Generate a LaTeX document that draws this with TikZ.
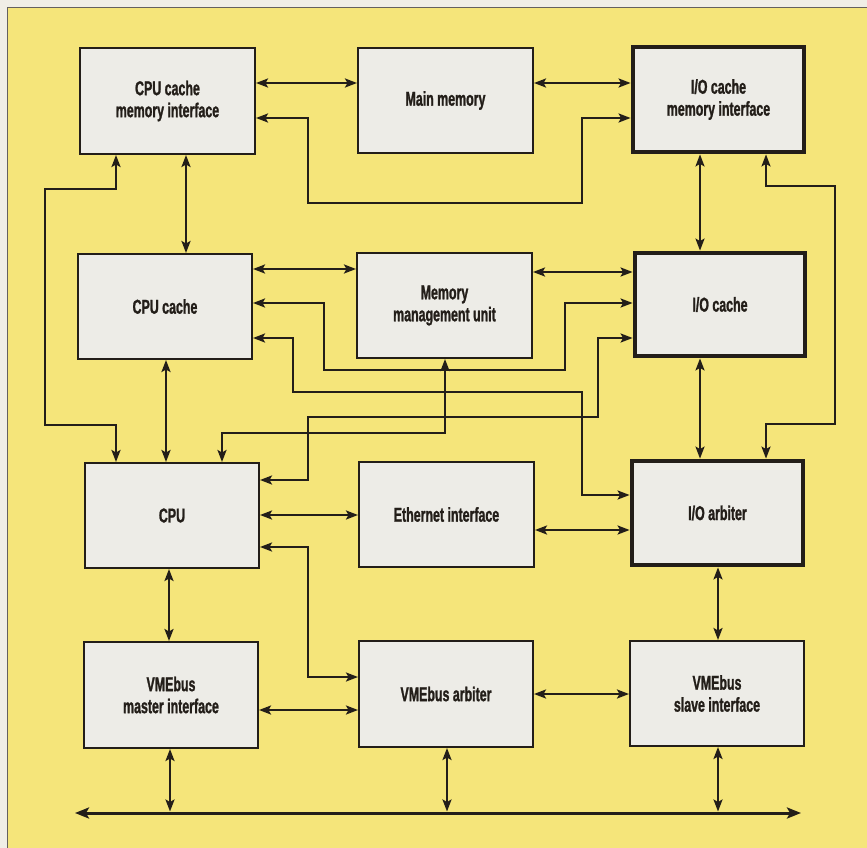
\documentclass[tikz,border=0pt]{standalone}
\usepackage{fontspec}
\setmainfont{Liberation Sans}[FakeStretch=0.62, BoldFeatures={FakeBold=1.2}]
\usetikzlibrary{arrows.meta}
\definecolor{bgyellow}{RGB}{245,229,122}
\definecolor{paper}{RGB}{240,238,230}
\definecolor{boxfill}{RGB}{237,236,231}
\definecolor{ink}{RGB}{35,30,25}
\tikzset{
  box/.style={draw=ink, fill=boxfill, line width=2pt, align=center,
    font=\fontsize{20}{22}\selectfont\bfseries, text=ink, inner sep=0pt},
  iobox/.style={box, line width=4.8pt},
  link/.style={draw=ink, line width=2.2pt,
    {Stealth[length=12pt,width=9pt,inset=2.5pt]}-{Stealth[length=12pt,width=9pt,inset=2.5pt]}},
  buslink/.style={draw=ink, line width=3pt,
    {Stealth[length=14pt,width=11pt,inset=3pt]}-{Stealth[length=14pt,width=11pt,inset=3pt]}}
}
\begin{document}
\begin{tikzpicture}[x=1pt,y=-1pt]
\useasboundingbox (0,0) rectangle (867,848);
\fill[paper] (0,0) rectangle (867,848);
\fill[bgyellow] (7,7) rectangle (867,848);
\draw[ink!70, line width=0.8pt] (7,848) -- (7,7) -- (867,7);

% row 1
\node[box, minimum width=175pt, minimum height=106pt] (cpucmi) at (167.5,101) {CPU cache\\memory interface};
\node[box, minimum width=175pt, minimum height=105pt] (mainmem) at (445.5,100.5) {Main memory};
\node[iobox, minimum width=171pt, minimum height=105pt] (iocmi) at (718.5,99.5) {I/O cache\\memory interface};
% row 2
\node[box, minimum width=174pt, minimum height=105pt] (cpucache) at (165,306.5) {CPU cache};
\node[box, minimum width=175pt, minimum height=105pt] (mmu) at (444.5,305.5) {Memory\\management unit};
\node[iobox, minimum width=170pt, minimum height=103pt] (iocache) at (720,304.5) {I/O cache};
% row 3
\node[box, minimum width=174pt, minimum height=105pt] (cpu) at (172,515.5) {CPU};
\node[box, minimum width=175pt, minimum height=105pt] (eth) at (446.5,514.5) {Ethernet interface};
\node[iobox, minimum width=171pt, minimum height=104pt] (ioarb) at (717.5,513) {I/O arbiter};
% row 4
\node[box, minimum width=174pt, minimum height=106pt] (vmem) at (171,695) {VMEbus\\master interface};
\node[box, minimum width=174pt, minimum height=106pt] (vmea) at (446,694) {VMEbus arbiter};
\node[box, minimum width=174pt, minimum height=105pt] (vmes) at (717,693.5) {VMEbus\\slave interface};

% bus
\coordinate (busL) at (75,813);
\coordinate (busR) at (801,813);
\draw[buslink] (busL) -- (busR);

% horizontal links
\draw[link] (cpucmi.east |- 0,83) -- (mainmem.west |- 0,83);
\draw[link] (mainmem.east |- 0,83) -- (iocmi.west |- 0,83);
\draw[link] (cpucache.east |- 0,269) -- (mmu.west |- 0,269);
\draw[link] (mmu.east |- 0,272) -- (iocache.west |- 0,272);
\draw[link] (cpu.east |- 0,515) -- (eth.west |- 0,515);
\draw[link] (eth.east |- 0,530) -- (ioarb.west |- 0,530);
\draw[link] (vmem.east |- 0,710) -- (vmea.west |- 0,710);
\draw[link] (vmea.east |- 0,694) -- (vmes.west |- 0,694);

% vertical links
\draw[link] (cpucmi.south -| 186,0) -- (cpucache.north -| 186,0);
\draw[link] (iocmi.south -| 700,0) -- (iocache.north -| 700,0);
\draw[link] (cpucache.south -| 166,0) -- (cpu.north -| 166,0);
\draw[link] (iocache.south -| 700,0) -- (ioarb.north -| 700,0);
\draw[link] (cpu.south -| 169,0) -- (vmem.north -| 169,0);
\draw[link] (ioarb.south -| 718,0) -- (vmes.north -| 718,0);
\draw[link] (vmem.south -| 170,0) -- ([yshift=1.5pt]busL -| 170,0);
\draw[link] (vmea.south -| 447,0) -- ([yshift=1.5pt]busL -| 447,0);
\draw[link] (vmes.south -| 718,0) -- ([yshift=1.5pt]busL -| 718,0);

% routed links
\draw[link] (cpucmi.east |- 0,118) -- (308,118) -- (308,203) -- (582,203) -- (582,118) -- (iocmi.west |- 0,118);
\draw[link] (cpucmi.south -| 116,0) -- (116,189) -- (45,189) -- (45,425) -- (116,425) -- (cpu.north -| 116,0);
\draw[link] (iocmi.south -| 766,0) -- (766,186) -- (835,186) -- (835,424) -- (766,424) -- (ioarb.north -| 766,0);
\draw[link] (cpucache.east |- 0,303) -- (324,303) -- (324,370) -- (565,370) -- (565,303) -- (iocache.west |- 0,303);
\draw[link] (cpucache.east |- 0,338) -- (293,338) -- (293,392) -- (582,392) -- (582,495) -- (ioarb.west |- 0,495);
\draw[link] (mmu.south -| 445,0) -- (445,433) -- (222,433) -- (cpu.north -| 222,0);
\draw[link] (iocache.west |- 0,338) -- (598,338) -- (598,417) -- (308,417) -- (308,480) -- (cpu.east |- 0,480);
\draw[link] (cpu.east |- 0,547) -- (308,547) -- (308,677) -- (vmea.west |- 0,677);
\end{tikzpicture}
\end{document}
